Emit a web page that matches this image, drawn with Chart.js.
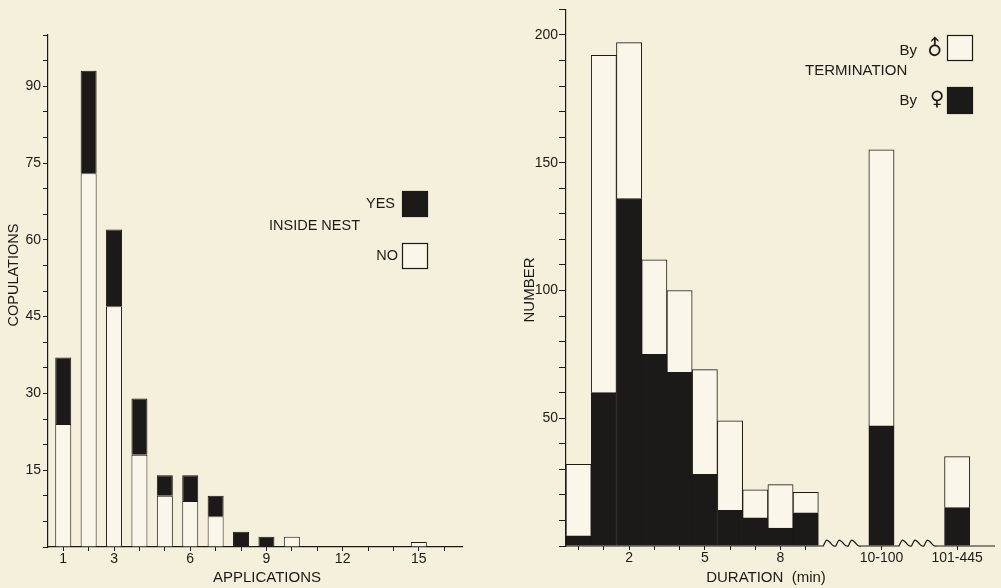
<!DOCTYPE html>
<html><head><meta charset="utf-8">
<script src="https://cdn.jsdelivr.net/npm/chart.js@4.4.1/dist/chart.umd.min.js"></script>
<style>
html,body{margin:0;padding:0;background:#f4f0dc;overflow:hidden}
#wrap{position:relative;width:1001px;height:588px;background:#f4f0dc}
#c1{position:absolute;left:0;top:0}
#c2{position:absolute;left:500px;top:0}
</style></head><body>
<div id="wrap"><canvas id="c1" width="500" height="588"></canvas><canvas id="c2" width="501" height="588"></canvas></div>
<script>
// ---- Left chart data ----
const applications = [1,2,3,4,5,6,7,8,9,10,15];
const insideNo  = [24,73,47,18,10,9,6,0,0,2,1];
const insideYes = [13,20,15,11,4,5,4,3,2,0,0];
const leftXTicks = [1,2,3,4,5,6,7,8,9,10,11,12,13,14,15,16];
const leftXTickLabels = [1,3,6,9,12,15];
const leftYTickLabels = [15,30,45,60,75,90];

// ---- Right chart data ----
const durationBins = ['0','1','2','3','4','5','6','7','8','9','','','10-100','','','101-445',''];
const durationTickLabels = ['2','5','8','10-100','101-445'];
const byFemale = [4,60,136,75,68,28,14,11,7,13,null,null,47,null,null,15,null];
const byMale   = [28,132,61,37,32,41,35,11,17,8,null,null,108,null,null,20,null];
const rightYTickLabels = [50,100,150,200];

const INK = '#1c1a18';
const WHITE = '#faf7ea';
const FONT = "'Liberation Sans', Arial, Helvetica, sans-serif";
Chart.defaults.font.family = FONT;
Chart.defaults.color = INK;

function pts(xs, ys){ return xs.map((x,i)=>({x:x, y: ys[i] ? ys[i] : null})); }

function txt(ctx, s, x, y, size, align, rot, fam){
  ctx.save();
  ctx.fillStyle = INK;
  ctx.font = size + 'px ' + (fam || FONT);
  ctx.textAlign = align || 'center';
  ctx.textBaseline = 'middle';
  ctx.translate(x, y);
  if (rot) ctx.rotate(rot);
  ctx.fillText(s, 0, 0);
  ctx.restore();
}
function box(ctx, x, y, w, h, fill){
  ctx.save();
  ctx.fillStyle = fill; ctx.fillRect(x, y, w, h);
  ctx.strokeStyle = INK; ctx.lineWidth = 1.2; ctx.strokeRect(x+0.5, y+0.5, w-1, h-1);
  ctx.restore();
}

const leftDecor = {
  id: 'leftDecor',
  afterDraw(chart){
    const ctx = chart.ctx;
    txt(ctx, 'COPULATIONS', 14, 275, 14.5, 'center', -Math.PI/2);
    txt(ctx, 'APPLICATIONS', 267, 578, 15, 'center');
    txt(ctx, 'YES', 395, 204, 14.5, 'right');
    box(ctx, 402, 191, 26, 26, INK);
    txt(ctx, 'INSIDE NEST', 360, 226, 14.5, 'right');
    txt(ctx, 'NO', 398, 256, 14.5, 'right');
    box(ctx, 402, 243, 26, 26, WHITE);
  }
};

new Chart(document.getElementById('c1'), {
  type: 'bar',
  data: {
    datasets: [
      { label: 'NO', data: pts(applications, insideNo), backgroundColor: WHITE, borderColor: INK, borderWidth: 1 },
      { label: 'YES', data: pts(applications, insideYes), backgroundColor: INK, borderColor: INK, borderWidth: 1 }
    ]
  },
  options: {
    responsive: false, animation: false, devicePixelRatio: 1,
    barPercentage: 0.63, categoryPercentage: 1,
    layout: { padding: { left: 0, right: 38, top: 35, bottom: 0 } },
    plugins: { legend: { display: false }, tooltip: { enabled: false } },
    scales: {
      x: {
        type: 'linear', stacked: true, offset: false, min: 0.4, max: 16.7,
        afterBuildTicks: s => { s.ticks = leftXTicks.map(v=>({value:v})); },
        afterFit: s => { s.height = 41; },
        ticks: { autoSkip: false, maxRotation: 0, padding: 0, font: { size: 14 },
          callback: v => leftXTickLabels.includes(v) ? String(v) : '' },
        grid: { display: true, offset: false, drawOnChartArea: false, drawTicks: true, tickLength: 4, color: INK, lineWidth: 1 },
        border: { display: true, color: INK, width: 1.2 }
      },
      y: {
        stacked: true, min: 0, max: 100,
        afterFit: s => { s.width = 48; },
        ticks: { stepSize: 5, autoSkip: false, padding: 2, font: { size: 14 },
          callback: v => leftYTickLabels.includes(v) ? String(v) : '' },
        grid: { display: true, drawOnChartArea: false, drawTicks: true, tickLength: 5, color: INK, lineWidth: 1 },
        border: { display: true, color: INK, width: 1.2 }
      }
    }
  },
  plugins: [leftDecor]
});

const rightDecor = {
  id: 'rightDecor',
  afterDraw(chart){
    const ctx = chart.ctx;
    const xs = chart.scales.x, ys = chart.scales.y;
    const y0 = ys.getPixelForValue(0);
    const half = (xs.getPixelForValue(1) - xs.getPixelForValue(0)) / 2;
    const gapA0 = xs.getPixelForValue(9) + half, gapA1 = xs.getPixelForValue(12) - half;
    const gapB0 = xs.getPixelForValue(12) + half, gapB1 = xs.getPixelForValue(15) - half;
    ctx.save();
    ctx.strokeStyle = INK; ctx.lineWidth = 1.2;
    ctx.beginPath();
    ctx.moveTo(chart.chartArea.left, y0);
    function wave(a, b){
      const s = a + 5, e = b - 8, n = 3, p = (e - s) / n;
      ctx.lineTo(s, y0);
      for (let i = 0; i < n; i++) {
        const x0 = s + i * p;
        ctx.bezierCurveTo(x0 + p*0.25, y0 - 7, x0 + p*0.25, y0 - 7, x0 + p*0.5, y0 - 4);
        ctx.bezierCurveTo(x0 + p*0.75, y0 - 1, x0 + p*0.75, y0 + 1, x0 + p, y0);
      }
      ctx.lineTo(b, y0);
    }
    ctx.lineTo(gapA0, y0);
    wave(gapA0, gapA1);
    ctx.lineTo(gapB0, y0);
    wave(gapB0, gapB1);
    ctx.lineTo(chart.chartArea.right, y0);
    ctx.stroke();
    ctx.restore();

    txt(ctx, 'NUMBER', 30, 290, 15, 'center', -Math.PI/2);
    txt(ctx, 'DURATION  (min)', 266, 578, 15, 'center');
    txt(ctx, 'By', 417, 51, 15, 'right');
    txt(ctx, '\u2642', 436, 49, 21, 'center', -Math.PI/4, "'DejaVu Sans', sans-serif");
    box(ctx, 447, 35, 26, 26, WHITE);
    txt(ctx, 'TERMINATION', 305, 71, 15, 'left');
    txt(ctx, 'By', 417, 101, 15, 'right');
    txt(ctx, '\u2640', 437, 100, 20, 'center', 0, "'DejaVu Sans', sans-serif");
    box(ctx, 447, 87, 26, 27, INK);
  }
};

new Chart(document.getElementById('c2'), {
  type: 'bar',
  data: {
    labels: durationBins,
    datasets: [
      { label: 'By female', data: byFemale, backgroundColor: INK, borderColor: INK, borderWidth: 1 },
      { label: 'By male', data: byMale, backgroundColor: WHITE, borderColor: INK, borderWidth: 1 }
    ]
  },
  options: {
    responsive: false, animation: false, devicePixelRatio: 1,
    barPercentage: 1, categoryPercentage: 1,
    layout: { padding: { left: 0, right: 6, top: 8, bottom: 0 } },
    plugins: { legend: { display: false }, tooltip: { enabled: false } },
    scales: {
      x: {
        stacked: true,
        afterFit: s => { s.height = 42; },
        ticks: { autoSkip: false, maxRotation: 0, padding: 0, font: { size: 14 },
          callback: (v, i) => durationTickLabels.includes(durationBins[i]) ? durationBins[i] : '' },
        grid: { display: true, offset: false, drawOnChartArea: false, drawTicks: true, tickLength: 4,
          color: c => (durationBins[c.index] !== '' ? INK : 'rgba(0,0,0,0)'), lineWidth: 1 },
        border: { display: false }
      },
      y: {
        stacked: true, min: 0, max: 210,
        afterFit: s => { s.width = 66; },
        ticks: { stepSize: 10, autoSkip: false, padding: 1, font: { size: 14 },
          callback: v => rightYTickLabels.includes(v) ? String(v) : '' },
        grid: { display: true, drawOnChartArea: false, drawTicks: true, tickLength: 7, color: INK, lineWidth: 1 },
        border: { display: true, color: INK, width: 1.2 }
      }
    }
  },
  plugins: [rightDecor]
});
</script>
</body></html>
